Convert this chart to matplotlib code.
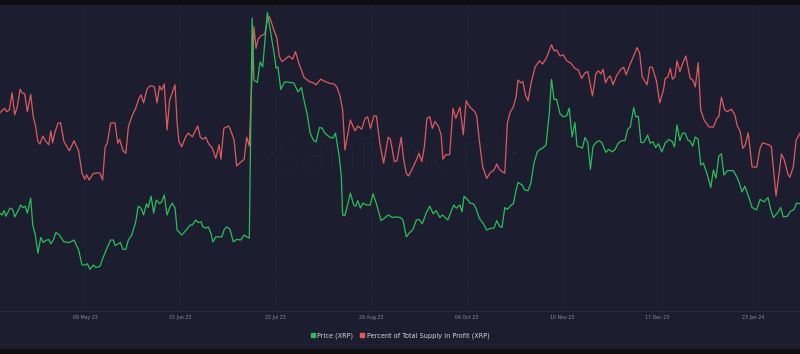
import matplotlib
matplotlib.use('Agg')
import matplotlib.pyplot as plt
import pandas as pd
from matplotlib.lines import Line2D
from matplotlib.patches import Rectangle

# XRP: price vs percent of total supply in profit (santiment style)
start = pd.Timestamp('2023-04-06')
end_days = 310.3

price_days = [0.0, 0.8, 1.6, 2.3, 3.9, 4.9, 5.7, 7.3, 8.0, 8.8, 9.8, 10.6, 11.9, 12.7, 13.7, 14.7,
              15.8, 16.8, 17.6, 18.9, 19.7, 20.7, 21.7, 23.0, 24.8, 26.9, 28.7, 30.5, 31.8, 33.1, 33.9,
              34.9, 36.2, 37.2, 38.8, 40.1, 41.6, 42.9, 44.0, 44.6, 46.7, 47.7, 48.8, 49.8, 51.1, 52.6,
              53.6, 54.7, 55.7, 56.8, 57.5, 58.6, 59.6, 60.6, 61.9, 62.7, 63.7, 64.8, 65.8, 66.8, 67.9,
              68.7, 70.5, 72.0, 73.8, 74.6, 75.9, 76.9, 78.0, 78.7, 79.8, 80.8, 81.8, 82.6, 83.7, 85.2,
              86.0, 87.0, 88.1, 89.2, 90.5, 91.8, 93.4, 94.7, 95.7, 96.7, 97.8, 98.5, 99.8, 100.9, 101.9,
              102.7, 103.7, 105.0, 106.3, 107.1, 107.8, 108.9, 110.4, 112.8, 114.0, 115.6, 116.9, 117.9,
              119.2, 120.3, 121.5, 122.6, 123.9, 124.9, 126.0, 127.7, 129.1, 130.1, 131.6, 132.4, 132.9,
              133.8, 135.9, 137.2, 138.0, 138.8, 139.8, 140.8, 142.1, 143.6, 144.7, 146.0, 147.8, 149.1,
              150.6, 152.2, 153.7, 155.3, 156.3, 157.6, 158.7, 160.2, 161.5, 162.5, 163.8, 165.4, 166.7,
              168.0, 169.2, 170.6, 171.6, 173.7, 174.9, 176.0, 177.0, 178.4, 179.2, 180.0, 181.3, 182.3,
              183.6, 184.6, 185.9, 187.5, 188.8, 190.6, 191.6, 192.7, 193.7, 194.7, 195.8, 196.8, 198.3,
              199.1, 200.2, 200.9, 202.5, 203.5, 204.8, 205.9, 207.1, 208.4, 209.5, 210.5, 211.8, 213.1,
              213.9, 214.9, 215.9, 217.2, 218.5, 219.8, 220.8, 221.9, 223.0, 223.8, 224.9, 225.9, 226.9,
              228.0, 229.0, 230.0, 231.1, 232.4, 233.4, 235.0, 236.0, 237.5, 238.6, 239.8, 241.2, 242.4,
              243.5, 244.5, 245.8, 246.6, 247.6, 248.6, 249.7, 251.2, 252.2, 253.3, 254.3, 255.4, 256.7,
              258.0, 259.5, 260.8, 261.6, 262.6, 263.7, 264.7, 265.7, 266.8, 267.7, 268.7, 269.7, 270.8,
              271.8, 272.8, 274.1, 275.7, 276.7, 277.7, 278.8, 279.8, 280.8, 282.1, 284.4, 285.8, 286.8,
              287.8, 288.9, 290.4, 291.7, 293.5, 294.8, 296.4, 297.9, 299.0, 300.0, 301.5, 302.8, 303.8,
              305.4, 306.4, 308.0, 309.0, 310.3]
price = [0.499, 0.496, 0.503, 0.494, 0.507, 0.505, 0.493, 0.505, 0.512, 0.508, 0.510, 0.499, 0.523, 0.480,
         0.464, 0.435, 0.460, 0.452, 0.455, 0.457, 0.450, 0.456, 0.468, 0.464, 0.453, 0.452, 0.456, 0.440,
         0.416, 0.416, 0.418, 0.409, 0.416, 0.412, 0.414, 0.429, 0.444, 0.456, 0.456, 0.447, 0.452, 0.441,
         0.441, 0.456, 0.464, 0.484, 0.510, 0.507, 0.496, 0.514, 0.508, 0.526, 0.499, 0.520, 0.514, 0.517,
         0.528, 0.496, 0.508, 0.515, 0.507, 0.472, 0.464, 0.471, 0.480, 0.480, 0.488, 0.484, 0.485, 0.477,
         0.475, 0.477, 0.467, 0.453, 0.461, 0.461, 0.461, 0.473, 0.477, 0.473, 0.453, 0.457, 0.456, 0.464,
         0.461, 0.459, 0.811, 0.712, 0.708, 0.741, 0.733, 0.771, 0.820, 0.787, 0.755, 0.731, 0.733, 0.697,
         0.709, 0.708, 0.707, 0.693, 0.700, 0.680, 0.656, 0.627, 0.616, 0.613, 0.636, 0.635, 0.627, 0.621,
         0.619, 0.627, 0.589, 0.557, 0.496, 0.495, 0.531, 0.512, 0.510, 0.519, 0.507, 0.515, 0.512, 0.512,
         0.530, 0.514, 0.487, 0.491, 0.496, 0.492, 0.493, 0.492, 0.488, 0.461, 0.467, 0.473, 0.488, 0.489,
         0.482, 0.500, 0.510, 0.498, 0.503, 0.492, 0.496, 0.488, 0.501, 0.512, 0.507, 0.512, 0.501, 0.526,
         0.521, 0.515, 0.514, 0.507, 0.491, 0.482, 0.472, 0.475, 0.475, 0.487, 0.478, 0.476, 0.508, 0.505,
         0.512, 0.514, 0.536, 0.548, 0.544, 0.536, 0.535, 0.547, 0.579, 0.597, 0.601, 0.603, 0.608, 0.661,
         0.713, 0.681, 0.681, 0.658, 0.653, 0.655, 0.667, 0.621, 0.644, 0.606, 0.605, 0.603, 0.620, 0.612,
         0.569, 0.605, 0.612, 0.615, 0.612, 0.596, 0.601, 0.597, 0.601, 0.611, 0.615, 0.615, 0.633, 0.637,
         0.668, 0.653, 0.654, 0.612, 0.612, 0.624, 0.611, 0.613, 0.604, 0.610, 0.597, 0.611, 0.617, 0.613,
         0.605, 0.640, 0.615, 0.627, 0.627, 0.616, 0.614, 0.606, 0.621, 0.617, 0.576, 0.579, 0.564, 0.540,
         0.568, 0.555, 0.590, 0.594, 0.560, 0.567, 0.567, 0.557, 0.547, 0.533, 0.542, 0.525, 0.508, 0.504,
         0.521, 0.517, 0.524, 0.504, 0.492, 0.499, 0.508, 0.493, 0.494, 0.501, 0.505, 0.515, 0.514]

profit_days = [0.0, 1.0, 1.8, 2.6, 3.6, 4.7, 5.7, 6.7, 7.8, 8.5, 9.6, 10.6, 11.9, 12.9, 13.7, 14.7,
               15.5, 16.6, 17.8, 18.9, 19.7, 20.4, 21.2, 22.5, 23.5, 24.8, 26.9, 28.7, 30.5, 31.8, 32.9,
               33.6, 34.6, 36.0, 37.5, 38.8, 39.8, 40.8, 41.6, 42.9, 44.0, 44.6, 45.7, 46.4, 47.7, 48.8,
               49.8, 51.1, 52.6, 53.9, 54.7, 55.7, 57.0, 58.1, 59.1, 59.9, 60.9, 61.9, 62.7, 63.7, 64.8,
               65.8, 67.9, 68.7, 69.4, 70.5, 72.0, 73.0, 74.6, 76.7, 77.7, 78.7, 79.8, 80.8, 82.4, 83.7,
               85.0, 85.7, 86.8, 88.6, 89.2, 90.8, 91.8, 93.1, 94.7, 95.7, 96.7, 98.5, 99.3, 100.1, 101.1,
               102.7, 103.7, 104.5, 105.2, 106.3, 107.3, 108.4, 109.4, 110.7, 112.0, 113.5, 114.6, 115.9,
               116.9, 117.9, 120.0, 121.5, 122.6, 124.4, 126.2, 127.7, 129.6, 130.6, 131.9, 132.9, 133.8,
               135.9, 137.7, 138.8, 140.3, 141.6, 142.6, 143.7, 145.0, 146.0, 147.3, 148.8, 150.6, 151.4,
               153.0, 154.0, 155.6, 156.6, 157.6, 158.4, 159.7, 161.5, 162.5, 163.6, 164.6, 165.6, 166.7,
               167.7, 168.7, 170.0, 171.1, 171.8, 172.9, 174.4, 175.7, 176.8, 178.4, 179.7, 180.8, 182.3,
               184.1, 184.9, 185.9, 187.2, 188.8, 190.1, 191.6, 192.7, 193.7, 194.7, 195.8, 196.8, 197.8,
               199.1, 200.2, 200.9, 202.0, 202.8, 203.8, 204.8, 206.1, 207.6, 209.2, 210.5, 212.1, 213.9,
               214.9, 215.9, 217.2, 218.5, 219.8, 221.4, 223.0, 224.3, 225.6, 226.9, 228.0, 229.8, 231.1,
               232.1, 233.1, 233.9, 234.9, 235.7, 236.7, 237.8, 239.1, 240.6, 241.9, 242.9, 244.3, 245.8,
               247.1, 248.1, 249.1, 251.0, 252.0, 253.0, 254.6, 255.9, 257.4, 258.0, 259.0, 260.0, 260.8,
               261.8, 262.6, 263.7, 264.9, 266.0, 267.7, 268.7, 269.7, 270.8, 271.8, 273.1, 274.9, 276.7,
               278.0, 278.8, 279.8, 281.1, 282.1, 283.7, 285.0, 286.0, 287.1, 288.1, 289.1, 290.2, 291.7,
               293.5, 294.8, 295.8, 298.2, 299.2, 301.0, 302.1, 303.1, 304.1, 305.7, 306.4, 307.7, 308.8,
               310.3]
profit = [69.8, 70.5, 70.9, 70.1, 70.5, 74.8, 69.3, 71.3, 75.7, 74.8, 74.5, 70.1, 74.4, 68.8, 66.8, 62.6,
          62.0, 64.0, 62.6, 61.8, 65.3, 62.3, 64.7, 67.2, 67.3, 62.6, 60.3, 62.8, 60.3, 54.7, 53.2, 54.3,
          53.0, 54.5, 54.8, 54.7, 53.0, 61.3, 62.2, 67.2, 67.3, 67.2, 62.2, 63.2, 60.3, 59.7, 66.3, 68.8,
          70.9, 73.4, 74.3, 72.3, 75.7, 76.5, 76.5, 76.2, 72.3, 76.5, 75.5, 77.0, 65.5, 73.0, 76.8, 67.2,
          62.6, 61.3, 63.8, 64.7, 63.8, 66.5, 63.7, 63.2, 63.7, 62.2, 60.9, 58.4, 61.8, 58.2, 65.9, 66.5,
          65.9, 63.0, 56.5, 57.3, 58.2, 63.7, 61.5, 91.3, 85.9, 88.2, 89.0, 89.5, 93.0, 93.8, 92.6, 90.3,
          88.8, 83.8, 82.6, 83.2, 84.0, 83.2, 85.1, 82.2, 80.5, 78.7, 77.6, 77.3, 76.8, 78.2, 77.6, 77.2,
          77.0, 76.3, 74.0, 70.5, 60.5, 68.0, 65.3, 66.5, 65.7, 68.4, 68.8, 65.9, 69.0, 69.0, 62.2, 57.2,
          63.7, 63.2, 57.6, 57.8, 63.7, 58.0, 54.7, 54.0, 55.5, 58.0, 59.7, 57.6, 61.3, 68.4, 68.8, 65.9,
          67.6, 66.5, 64.3, 58.2, 59.3, 59.3, 70.9, 68.4, 71.2, 64.3, 72.8, 71.2, 70.1, 69.0, 63.0, 56.3,
          53.4, 54.8, 55.5, 57.0, 55.7, 55.1, 54.7, 67.2, 69.8, 71.3, 73.8, 78.0, 77.3, 77.6, 74.3, 72.8,
          77.6, 81.3, 82.8, 82.0, 83.8, 86.8, 85.3, 85.5, 84.0, 84.3, 82.8, 82.2, 80.9, 80.5, 78.4, 79.8,
          80.1, 74.0, 79.5, 80.3, 79.5, 80.7, 77.3, 78.4, 79.0, 76.8, 79.0, 80.5, 81.2, 79.3, 81.8, 84.0,
          86.1, 84.7, 78.8, 76.8, 81.2, 81.2, 77.8, 72.3, 75.7, 78.4, 78.7, 80.9, 78.2, 78.8, 82.8, 80.1,
          82.3, 84.0, 78.4, 78.0, 76.3, 82.3, 70.5, 68.0, 66.3, 66.2, 68.4, 68.8, 73.7, 70.5, 70.1, 70.7,
          69.3, 66.5, 65.1, 60.9, 61.8, 64.8, 56.3, 56.2, 60.9, 62.3, 61.8, 61.3, 49.0, 54.3, 59.5, 58.2,
          54.3, 53.7, 56.3, 63.0, 64.7]

tick_dates = ['2023-05-09', '2023-06-15', '2023-07-22', '2023-08-28',
              '2023-10-04', '2023-11-10', '2023-12-17', '2024-01-23']
tick_labels = ['09 May 23', '15 Jun 23', '22 Jul 23', '28 Aug 23',
               '04 Oct 23', '10 Nov 23', '17 Dec 23', '23 Jan 24']

bg = '#1c1e2f'
green = '#2bbd5b'
red = '#de5a5f'

price_x = start + pd.to_timedelta(price_days, unit='D')
profit_x = start + pd.to_timedelta(profit_days, unit='D')

fig = plt.figure(figsize=(8, 3.54), dpi=100, facecolor=bg)
ax = fig.add_axes([0, 1 - 311 / 354, 1, 306 / 354])
ax.set_facecolor(bg)
ax2 = ax.twinx()

ax.plot(profit_x, profit, color=red, linewidth=0.9, zorder=3)
ax2.plot(price_x, price, color=green, linewidth=0.9, zorder=3)

ax.set_xlim(start, start + pd.Timedelta(days=end_days))
ax.set_ylim(20.25, 96.75)
ax2.set_ylim(0.3424, 0.832)

ax.set_xticks(pd.to_datetime(tick_dates))
ax.set_xticklabels(tick_labels, color='#8b8e9c', fontsize=3.4)
ax.tick_params(axis='x', length=0, pad=3)
ax.set_yticks([])
ax2.set_yticks([])
ax.grid(axis='x', color='#272a3d', linewidth=0.6, linestyle=(0, (2, 2)))

for a in (ax, ax2):
    for side in ('top', 'left', 'right'):
        a.spines[side].set_visible(False)
    a.spines['bottom'].set_color('#2b2e40')
    a.spines['bottom'].set_linewidth(0.6)

# watermark
ax.text(0.492, 0.51, '\u00b7santiment\u00b7', transform=ax.transAxes, ha='center', va='center',
        fontsize=40, color='#24273a', family='Lato', fontweight='light', zorder=0.5)

# black strips at top and bottom of the screenshot
fig.patches.append(Rectangle((0, 1 - 5 / 354), 1, 5 / 354, transform=fig.transFigure,
                             facecolor='#0f0f10', edgecolor='none'))
fig.patches.append(Rectangle((0, 0), 1, 5 / 354, transform=fig.transFigure,
                             facecolor='#0f0f10', edgecolor='none'))

handles = [Line2D([], [], marker='s', linestyle='none', color=green, markersize=2.8),
           Line2D([], [], marker='s', linestyle='none', color=red, markersize=2.8)]
fig.legend(handles, ['Price (XRP)', 'Percent of Total Supply in Profit (XRP)'],
           loc='center', bbox_to_anchor=(0.5, 1 - 336 / 354), ncol=2, frameon=False,
           fontsize=4.7, labelcolor='#d4d6de', handlelength=0.6, handletextpad=0.4,
           columnspacing=1.1)

fig.savefig('out.png', dpi=100, facecolor=bg)
